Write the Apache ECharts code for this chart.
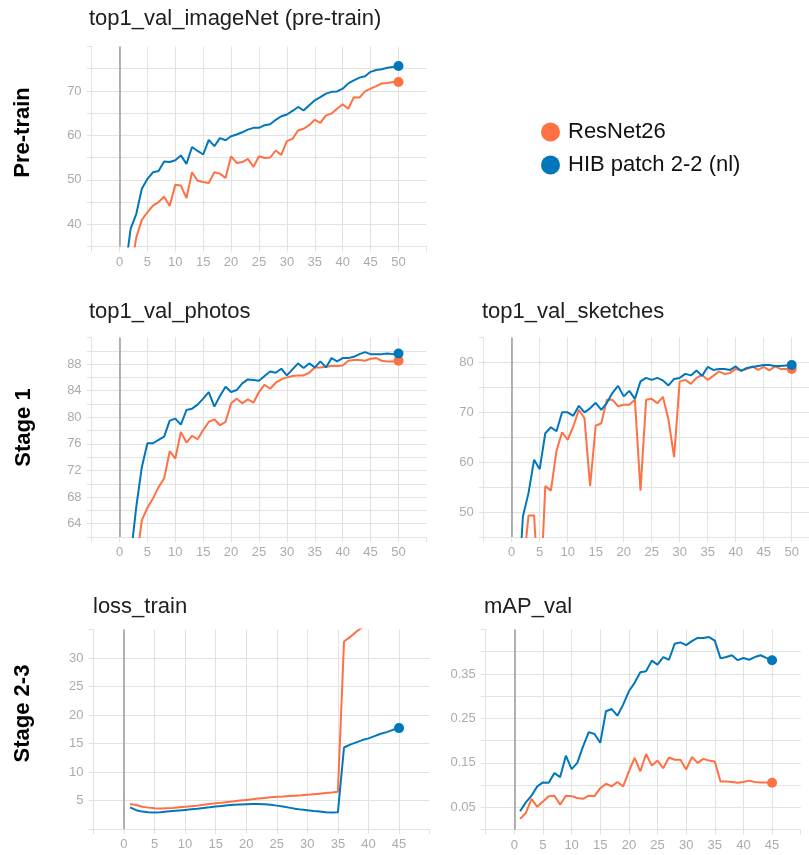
<!DOCTYPE html>
<html>
<head>
<meta charset="utf-8">
<title>Training curves</title>
<script src="https://cdn.jsdelivr.net/npm/echarts@6/dist/echarts.min.js"></script>
<style>
  html, body { margin: 0; padding: 0; background: #ffffff; }
  #main { width: 809px; height: 855px; }
</style>
</head>
<body>
<div id="main"></div>
<script>
// ---- run names ----
const seriesNames = ['ResNet26', 'HIB patch 2-2 (nl)'];

// ---- epochs ----
const epochs50 = [1,2,3,4,5,6,7,8,9,10,11,12,13,14,15,16,17,18,19,20,21,22,23,24,25,
                  26,27,28,29,30,31,32,33,34,35,36,37,38,39,40,41,42,43,44,45,46,47,48,49,50];
const epochs45 = [1,2,3,4,5,6,7,8,9,10,11,12,13,14,15,16,17,18,19,20,21,22,23,24,25,
                  26,27,28,29,30,31,32,33,34,35,36,37,38,39,40,41,42,43,44,45];

// ---- top1_val_imageNet (pre-train) ----
const imagenetResNet = [22, 29, 37.0, 41.0, 42.7, 44.2, 45.0, 46.2, 44.1, 48.9, 48.7, 45.9, 51.7, 49.8, 49.5,
  49.3, 51.7, 51.4, 50.4, 55.3, 53.8, 54.0, 54.7, 52.9, 55.3, 54.9, 55.0, 56.6, 55.6, 58.7, 59.2, 61.1, 61.5,
  62.3, 63.5, 62.8, 64.5, 64.9, 66.0, 67.0, 66.0, 68.6, 68.5, 69.9, 70.5, 71.1, 71.7, 71.8, 72.0, 72.0];
const imagenetHIB = [29.5, 39.0, 42.3, 48.0, 50.2, 51.7, 52.0, 54.1, 54.0, 54.4, 55.5, 53.6, 57.4, 56.5, 55.7,
  59.0, 57.6, 59.4, 58.9, 59.8, 60.2, 60.7, 61.3, 61.7, 61.7, 62.3, 62.5, 63.5, 64.3, 64.7, 65.5, 66.4, 65.6,
  66.8, 67.9, 68.6, 69.4, 69.8, 69.9, 70.5, 71.7, 72.4, 73.0, 73.3, 74.3, 74.7, 74.9, 75.2, 75.4, 75.6];

// ---- top1_val_photos ----
const photosResNet = [48, 54, 58.2, 64.5, 66.4, 67.8, 69.5, 70.8, 74.9, 73.8, 77.8, 76.2, 77.2, 76.7, 78.1,
  79.3, 79.7, 78.8, 79.3, 82.1, 82.8, 82.1, 82.7, 82.2, 83.8, 84.9, 84.3, 85.2, 85.7, 86.0, 86.2, 86.3, 86.3,
  86.7, 87.5, 87.5, 87.6, 87.7, 87.7, 87.8, 88.5, 88.6, 88.6, 88.5, 88.8, 88.9, 88.5, 88.4, 88.4, 88.5];
const photosHIB = [52, 59, 66.5, 72.5, 76.1, 76.1, 76.6, 77.1, 79.5, 79.8, 78.9, 81.1, 81.3, 81.9, 82.8,
  83.8, 81.6, 83.2, 84.6, 83.8, 84.1, 85.1, 85.7, 85.6, 85.5, 86.2, 86.9, 86.7, 87.3, 86.3, 87.2, 88.1, 87.4,
  88.1, 87.5, 88.4, 87.5, 88.9, 88.4, 88.9, 88.9, 89.1, 89.5, 89.8, 89.5, 89.5, 89.5, 89.6, 89.5, 89.6];

// ---- top1_val_sketches ----
const sketchesResNet = [32, 38, 49.3, 49.3, 30, 55.2, 54.3, 62.3, 66.0, 64.5, 67.2, 70.5, 68.8, 55.2, 67.3,
  67.8, 72.5, 72.5, 71.2, 71.5, 71.5, 72.5, 54.3, 72.5, 72.7, 71.8, 73.1, 68.5, 61.0, 76.2, 76.5, 75.7, 76.9,
  77.5, 76.5, 77.3, 78.2, 77.7, 77.9, 78.7, 78.4, 78.7, 79.2, 78.5, 79.1, 78.4, 79.2, 78.7, 78.7, 78.7];
const sketchesHIB = [30, 49.1, 53.8, 60.5, 58.6, 65.8, 67.0, 66.2, 70.0, 70.0, 69.3, 71.3, 70.0, 70.8, 71.9,
  70.5, 71.9, 73.9, 75.3, 73.2, 74.3, 72.7, 76.2, 76.9, 76.5, 76.9, 76.4, 75.4, 76.7, 76.9, 77.7, 77.4, 78.4,
  77.3, 79.1, 78.5, 78.7, 78.7, 78.5, 79.2, 78.3, 78.9, 79.1, 79.3, 79.5, 79.5, 79.3, 79.3, 79.4, 79.5];

// ---- loss_train ----
const lossResNet = [4.4, 4.2, 3.9, 3.75, 3.65, 3.6, 3.65, 3.7, 3.8, 3.9, 4.0, 4.1, 4.25, 4.4, 4.5,
  4.6, 4.75, 4.85, 5.0, 5.1, 5.2, 5.35, 5.45, 5.55, 5.65, 5.7, 5.8, 5.85, 5.9, 6.0, 6.1, 6.2, 6.3,
  6.4, 6.55, 32.9, 33.7, 34.6, 35.4, 36.3, 37.1, 38.0, 38.8, 39.6, 40.4];
const lossHIB = [3.8, 3.3, 3.05, 2.95, 2.9, 2.95, 3.05, 3.15, 3.25, 3.35, 3.45, 3.55, 3.7, 3.8, 3.95,
  4.05, 4.15, 4.25, 4.3, 4.35, 4.4, 4.4, 4.35, 4.25, 4.1, 3.95, 3.75, 3.55, 3.4, 3.3, 3.15, 3.05, 2.95,
  2.9, 2.95, 14.3, 14.8, 15.2, 15.6, 15.9, 16.3, 16.7, 17.0, 17.4, 17.7];

// ---- mAP_val ----
const mapResNet = [0.024, 0.037, 0.069, 0.051, 0.063, 0.075, 0.076, 0.056, 0.076, 0.075, 0.071, 0.069, 0.076,
  0.075, 0.093, 0.103, 0.097, 0.107, 0.097, 0.131, 0.161, 0.131, 0.170, 0.144, 0.155, 0.138, 0.162, 0.157,
  0.157, 0.135, 0.163, 0.150, 0.159, 0.155, 0.153, 0.108, 0.108, 0.107, 0.105, 0.107, 0.110, 0.107, 0.106,
  0.106, 0.105];
const mapHIB = [0.041, 0.061, 0.076, 0.097, 0.106, 0.105, 0.127, 0.118, 0.166, 0.136, 0.150, 0.187, 0.219,
  0.215, 0.195, 0.266, 0.271, 0.256, 0.281, 0.311, 0.330, 0.354, 0.356, 0.380, 0.371, 0.388, 0.382, 0.418,
  0.421, 0.415, 0.424, 0.431, 0.431, 0.433, 0.425, 0.385, 0.388, 0.392, 0.381, 0.386, 0.382, 0.388, 0.392,
  0.386, 0.381];

// ---- tick labels ----
const xLabels50 = ['0','5','10','15','20','25','30','35','40','45','50'];
const xLabels45 = ['0','5','10','15','20','25','30','35','40','45'];
const imagenetYLabels = ['40','50','60','70'];
const photosYLabels = ['64','68','72','76','80','84','88'];
const sketchesYLabels = ['50','60','70','80'];
const lossYLabels = ['5','10','15','20','25','30'];
const mapYLabels = ['0.05','0.15','0.25','0.35'];

// ---- row headings ----
const rowHeadings = ['Pre-train', 'Stage 1', 'Stage 2-3'];

// ---- styling ----
const COLORS = ['#ff7043', '#0077bb'];
const FONT = '"Liberation Sans", Arial, Helvetica, sans-serif';
const GRID_COLOR = '#e2e2e2';
const LABEL_COLOR = '#ababab';

const panels = [
  { title: 'top1_val_imageNet (pre-train)', titlePos: [89, 19],
    box: { left: 91.6, top: 46.5, width: 334.8, height: 200 },
    x: [-5, 55], y: [35, 80, 5], yDigits: 0,
    xLabels: xLabels50, yLabels: imagenetYLabels, epochs: epochs50, runs: [imagenetResNet, imagenetHIB] },
  { title: 'top1_val_photos', titlePos: [89, 312],
    box: { left: 91.6, top: 337.5, width: 334.8, height: 199.5 },
    x: [-5, 55], y: [62, 92, 2], yDigits: 0,
    xLabels: xLabels50, yLabels: photosYLabels, epochs: epochs50, runs: [photosResNet, photosHIB] },
  { title: 'top1_val_sketches', titlePos: [482, 312],
    box: { left: 483.7, top: 337.5, width: 336, height: 199.5 },
    x: [-5, 55], y: [45, 85, 5], yDigits: 0,
    xLabels: xLabels50, yLabels: sketchesYLabels, epochs: epochs50, runs: [sketchesResNet, sketchesHIB] },
  { title: 'loss_train', titlePos: [93, 607],
    box: { left: 93.4, top: 629.5, width: 336.2, height: 199.5 },
    x: [-5, 50], y: [0, 35, 5], yDigits: 0,
    xLabels: xLabels45, yLabels: lossYLabels, epochs: epochs45, runs: [lossResNet, lossHIB] },
  { title: 'mAP_val', titlePos: [484, 607],
    box: { left: 485.7, top: 629.5, width: 315, height: 200 },
    x: [-5, 50], y: [0, 0.45, 0.05], yDigits: 2,
    xLabels: xLabels45, yLabels: mapYLabels, epochs: epochs45, runs: [mapResNet, mapHIB] }
];

const rowHeadingPos = [[23, 132.5], [24, 427.5], [23, 713.5]];

function labelFormatter(labels, digits) {
  return function (v) {
    const s = Number(v).toFixed(digits);
    return labels.indexOf(s) >= 0 ? s : '';
  };
}

const grids = [], xAxes = [], yAxes = [], series = [], graphics = [];

panels.forEach(function (p, i) {
  grids.push(Object.assign({ containLabel: false, outerBoundsMode: 'none' }, p.box));

  xAxes.push({
    type: 'value', gridIndex: i, min: p.x[0], max: p.x[1], interval: 5,
    axisLine: { show: true, onZero: false, lineStyle: { color: GRID_COLOR, width: 1 } },
    axisTick: { show: true, length: 5, lineStyle: { color: GRID_COLOR, width: 1 } },
    axisLabel: { show: true, margin: 9, color: LABEL_COLOR, fontSize: 13, fontFamily: FONT,
                 showMinLabel: true, showMaxLabel: true, hideOverlap: false,
                 formatter: labelFormatter(p.xLabels, 0) },
    splitLine: { show: true, showMinLine: true, showMaxLine: false,
                 lineStyle: { color: GRID_COLOR, width: 1 } }
  });

  yAxes.push({
    type: 'value', gridIndex: i, min: p.y[0], max: p.y[1], interval: p.y[2],
    axisLine: { show: false, onZero: false },
    axisTick: { show: true, length: 5, lineStyle: { color: GRID_COLOR, width: 1 } },
    axisLabel: { show: true, margin: 10, color: LABEL_COLOR, fontSize: 13, fontFamily: FONT,
                 showMinLabel: true, showMaxLabel: true, hideOverlap: false,
                 formatter: labelFormatter(p.yLabels, p.yDigits) },
    splitLine: { show: true, showMinLine: true, showMaxLine: false,
                 lineStyle: { color: GRID_COLOR, width: 1 } }
  });

  // one line per run, drawn from the epoch/value arrays
  p.runs.forEach(function (values, r) {
    const pts = values.map(function (v, k) { return [p.epochs[k], v]; });
    const line = {
      type: 'line', name: seriesNames[r], xAxisIndex: i, yAxisIndex: i,
      data: pts, showSymbol: false, symbol: 'none', clip: true,
      lineStyle: { color: COLORS[r], width: 2 },
      itemStyle: { color: COLORS[r] },
      emphasis: { disabled: true }, animation: false, z: 2 + r
    };
    if (r === 0) {
      // vertical reference line at epoch 0
      line.markLine = {
        silent: true, symbol: ['none', 'none'], animation: false,
        label: { show: false },
        lineStyle: { color: '#9a9a9a', width: 1.5, type: 'solid' },
        emphasis: { disabled: true },
        data: [{ xAxis: 0 }]
      };
    }
    series.push(line);
  });

  // final-value dots
  p.runs.forEach(function (values, r) {
    const last = values.length - 1;
    series.push({
      type: 'scatter', name: seriesNames[r], xAxisIndex: i, yAxisIndex: i,
      data: [[p.epochs[last], values[last]]], symbol: 'circle', symbolSize: 10, clip: true,
      itemStyle: { color: COLORS[r], opacity: 1 },
      emphasis: { disabled: true }, animation: false, z: 5 + r
    });
  });

  graphics.push({
    type: 'text', x: p.titlePos[0], y: p.titlePos[1], silent: true,
    style: { text: p.title, fill: '#202020', font: 'normal 22px ' + FONT,
             textAlign: 'left', textVerticalAlign: 'middle' }
  });
});

rowHeadings.forEach(function (h, i) {
  graphics.push({
    type: 'text', x: rowHeadingPos[i][0], y: rowHeadingPos[i][1], rotation: Math.PI / 2, silent: true,
    style: { text: h, fill: '#000000', font: 'bold 22px ' + FONT,
             textAlign: 'center', textVerticalAlign: 'middle' }
  });
});

const chart = echarts.init(document.getElementById('main'), null, { renderer: 'canvas' });
chart.setOption({
  backgroundColor: '#ffffff',
  animation: false,
  tooltip: { show: false },
  legend: {
    data: seriesNames, orient: 'vertical', left: 536, top: 116,
    icon: 'circle', itemWidth: 19, itemHeight: 19, itemGap: 11,
    selectedMode: false,
    textStyle: { fontSize: 22, fontFamily: FONT, color: '#111111', lineHeight: 22, padding: [0, 0, 0, 3] }
  },
  grid: grids,
  xAxis: xAxes,
  yAxis: yAxes,
  series: series,
  graphic: graphics
});
</script>
</body>
</html>
